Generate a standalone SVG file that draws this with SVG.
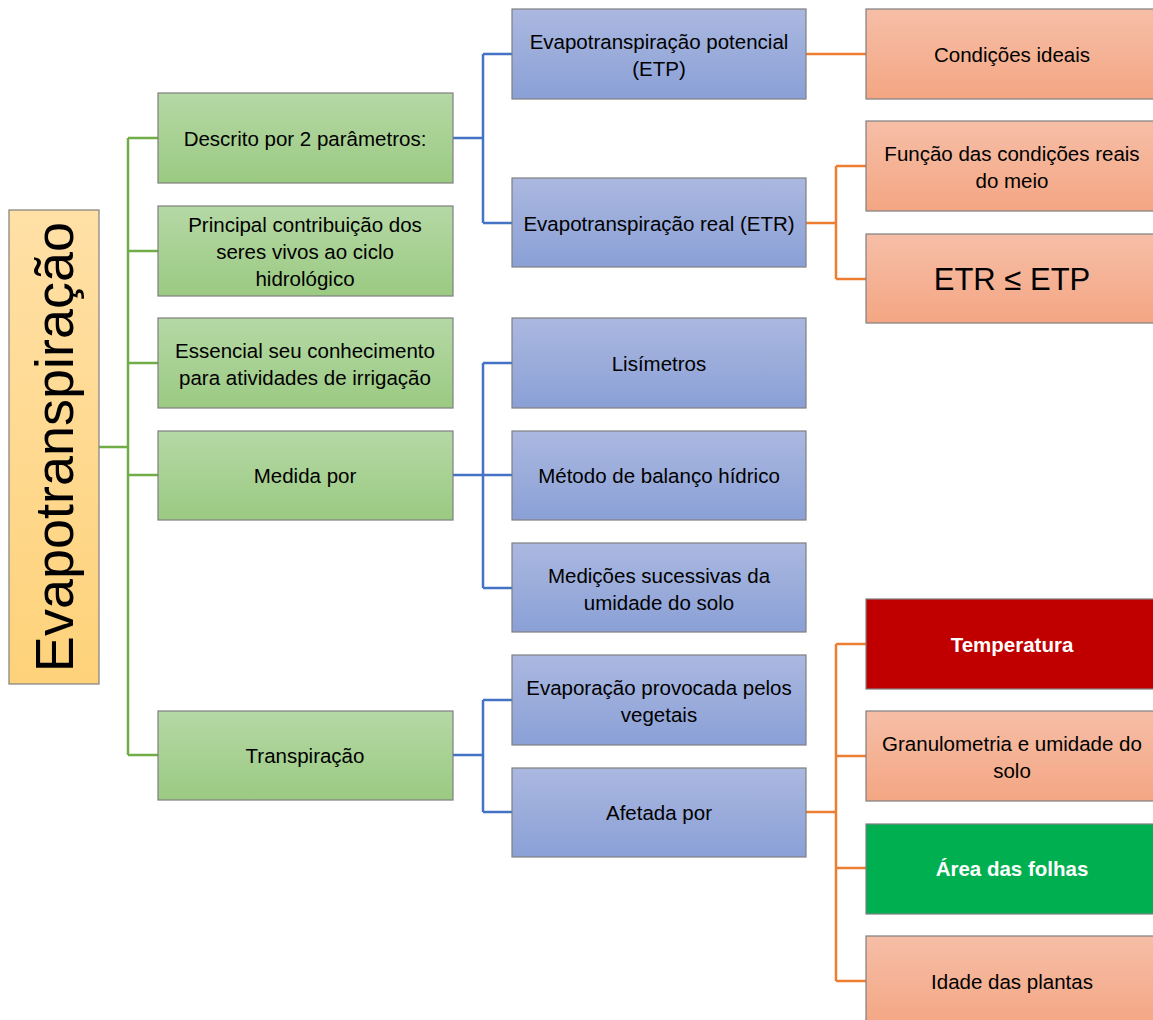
<svg xmlns="http://www.w3.org/2000/svg" width="1153" height="1020" viewBox="0 0 1153 1020">
<defs>
<linearGradient id="gGreen" x1="0" y1="0" x2="0" y2="1"><stop offset="0" stop-color="#b5d8a5"/><stop offset="1" stop-color="#9bca82"/></linearGradient>
<linearGradient id="gBlue" x1="0" y1="0" x2="0" y2="1"><stop offset="0" stop-color="#abb8e0"/><stop offset="1" stop-color="#8aa0d6"/></linearGradient>
<linearGradient id="gOrange" x1="0" y1="0" x2="0" y2="1"><stop offset="0" stop-color="#f6bea7"/><stop offset="1" stop-color="#f4a683"/></linearGradient>
<linearGradient id="gRoot" x1="0" y1="0" x2="0" y2="1"><stop offset="0" stop-color="#ffe0a6"/><stop offset="1" stop-color="#fed27a"/></linearGradient>
<style>
.box{stroke:#7f7f7f;stroke-width:1.2}
.green{fill:url(#gGreen)}
.blue{fill:url(#gBlue)}
.orange{fill:url(#gOrange)}
.t{font-family:"Liberation Sans",Arial,sans-serif;font-size:20.5px;fill:#000;text-anchor:middle;dominant-baseline:central}
.w{fill:#fff;font-weight:bold}
.cg{stroke:#70ad47;stroke-width:2.5;fill:none}
.cb{stroke:#4472c4;stroke-width:2.5;fill:none}
.co{stroke:#ed7d31;stroke-width:2.5;fill:none}
</style>
</defs>
<rect width="1153" height="1020" fill="#fff"/>
<g id="connectors">
<path class="cg" d="M99 447H128M128 138V755M128 138H158M128 251H158M128 363H158M128 475H158M128 755H158"/>
<path class="cb" d="M453 138H483M483 54V223M483 54H512M483 223H512"/>
<path class="cb" d="M453 475H483M483 363V588M483 363H512M483 475H512M483 588H512"/>
<path class="cb" d="M453 755H483M483 700V812M483 700H512M483 812H512"/>
<path class="co" d="M806 54H866"/>
<path class="co" d="M806 223H836M836 166V279M836 166H866M836 279H866"/>
<path class="co" d="M806 812H836M836 644V981M836 644H866M836 756H866M836 868H866M836 981H866"/>
</g>
<g id="root"><rect class="box" x="9" y="210" width="90" height="474" fill="url(#gRoot)"/><text class="t" transform="translate(54 447) rotate(-90)" style="font-size:54px">Evapotranspiração</text></g>
<g id="descrito"><rect class="box green" x="158" y="93" width="295" height="90"/><text class="t" x="305" y="138">Descrito por 2 parâmetros:</text></g>
<g id="principal"><rect class="box green" x="158" y="206" width="295" height="90"/><text class="t" x="305" y="251"><tspan x="305" dy="-27">Principal contribuição dos</tspan><tspan x="305" dy="27">seres vivos ao ciclo</tspan><tspan x="305" dy="27">hidrológico</tspan></text></g>
<g id="essencial"><rect class="box green" x="158" y="318" width="295" height="90"/><text class="t" x="305" y="363"><tspan x="305" dy="-13.5">Essencial seu conhecimento</tspan><tspan x="305" dy="27">para atividades de irrigação</tspan></text></g>
<g id="medida"><rect class="box green" x="158" y="431" width="295" height="89"/><text class="t" x="305" y="475">Medida por</text></g>
<g id="transpiracao"><rect class="box green" x="158" y="711" width="295" height="89"/><text class="t" x="305" y="755">Transpiração</text></g>
<g id="etp"><rect class="box blue" x="512" y="9" width="294" height="90"/><text class="t" x="659" y="54"><tspan x="659" dy="-13.5">Evapotranspiração potencial</tspan><tspan x="659" dy="27">(ETP)</tspan></text></g>
<g id="etr"><rect class="box blue" x="512" y="178" width="294" height="89"/><text class="t" x="659" y="223">Evapotranspiração real (ETR)</text></g>
<g id="lisimetros"><rect class="box blue" x="512" y="318" width="294" height="90"/><text class="t" x="659" y="363">Lisímetros</text></g>
<g id="metodo"><rect class="box blue" x="512" y="431" width="294" height="89"/><text class="t" x="659" y="475">Método de balanço hídrico</text></g>
<g id="medicoes"><rect class="box blue" x="512" y="543" width="294" height="89"/><text class="t" x="659" y="588"><tspan x="659" dy="-13.5">Medições sucessivas da</tspan><tspan x="659" dy="27">umidade do solo</tspan></text></g>
<g id="evaporacao"><rect class="box blue" x="512" y="655" width="294" height="90"/><text class="t" x="659" y="700"><tspan x="659" dy="-13.5">Evaporação provocada pelos</tspan><tspan x="659" dy="27">vegetais</tspan></text></g>
<g id="afetada"><rect class="box blue" x="512" y="768" width="294" height="89"/><text class="t" x="659" y="812">Afetada por</text></g>
<g id="condicoes"><rect class="box orange" x="866" y="9" width="300" height="90"/><text class="t" x="1012" y="54">Condições ideais</text></g>
<g id="funcao"><rect class="box orange" x="866" y="121" width="300" height="90"/><text class="t" x="1012" y="166"><tspan x="1012" dy="-13.5">Função das condições reais</tspan><tspan x="1012" dy="27">do meio</tspan></text></g>
<g id="etrle"><rect class="box orange" x="866" y="234" width="300" height="89"/><text class="t" x="1012" y="279" style="font-size:31px">ETR ≤ ETP</text></g>
<g id="temperatura"><rect class="box" x="866" y="599" width="300" height="90" fill="#c00000"/><text class="t w" x="1012" y="644">Temperatura</text></g>
<g id="granulometria"><rect class="box orange" x="866" y="711" width="300" height="90"/><text class="t" x="1012" y="756"><tspan x="1012" dy="-13.5">Granulometria e umidade do</tspan><tspan x="1012" dy="27">solo</tspan></text></g>
<g id="area"><rect class="box" x="866" y="824" width="300" height="90" fill="#00b050"/><text class="t w" x="1012" y="868">Área das folhas</text></g>
<g id="idade"><rect class="box orange" x="866" y="936" width="300" height="90"/><text class="t" x="1012" y="981">Idade das plantas</text></g>
</svg>
